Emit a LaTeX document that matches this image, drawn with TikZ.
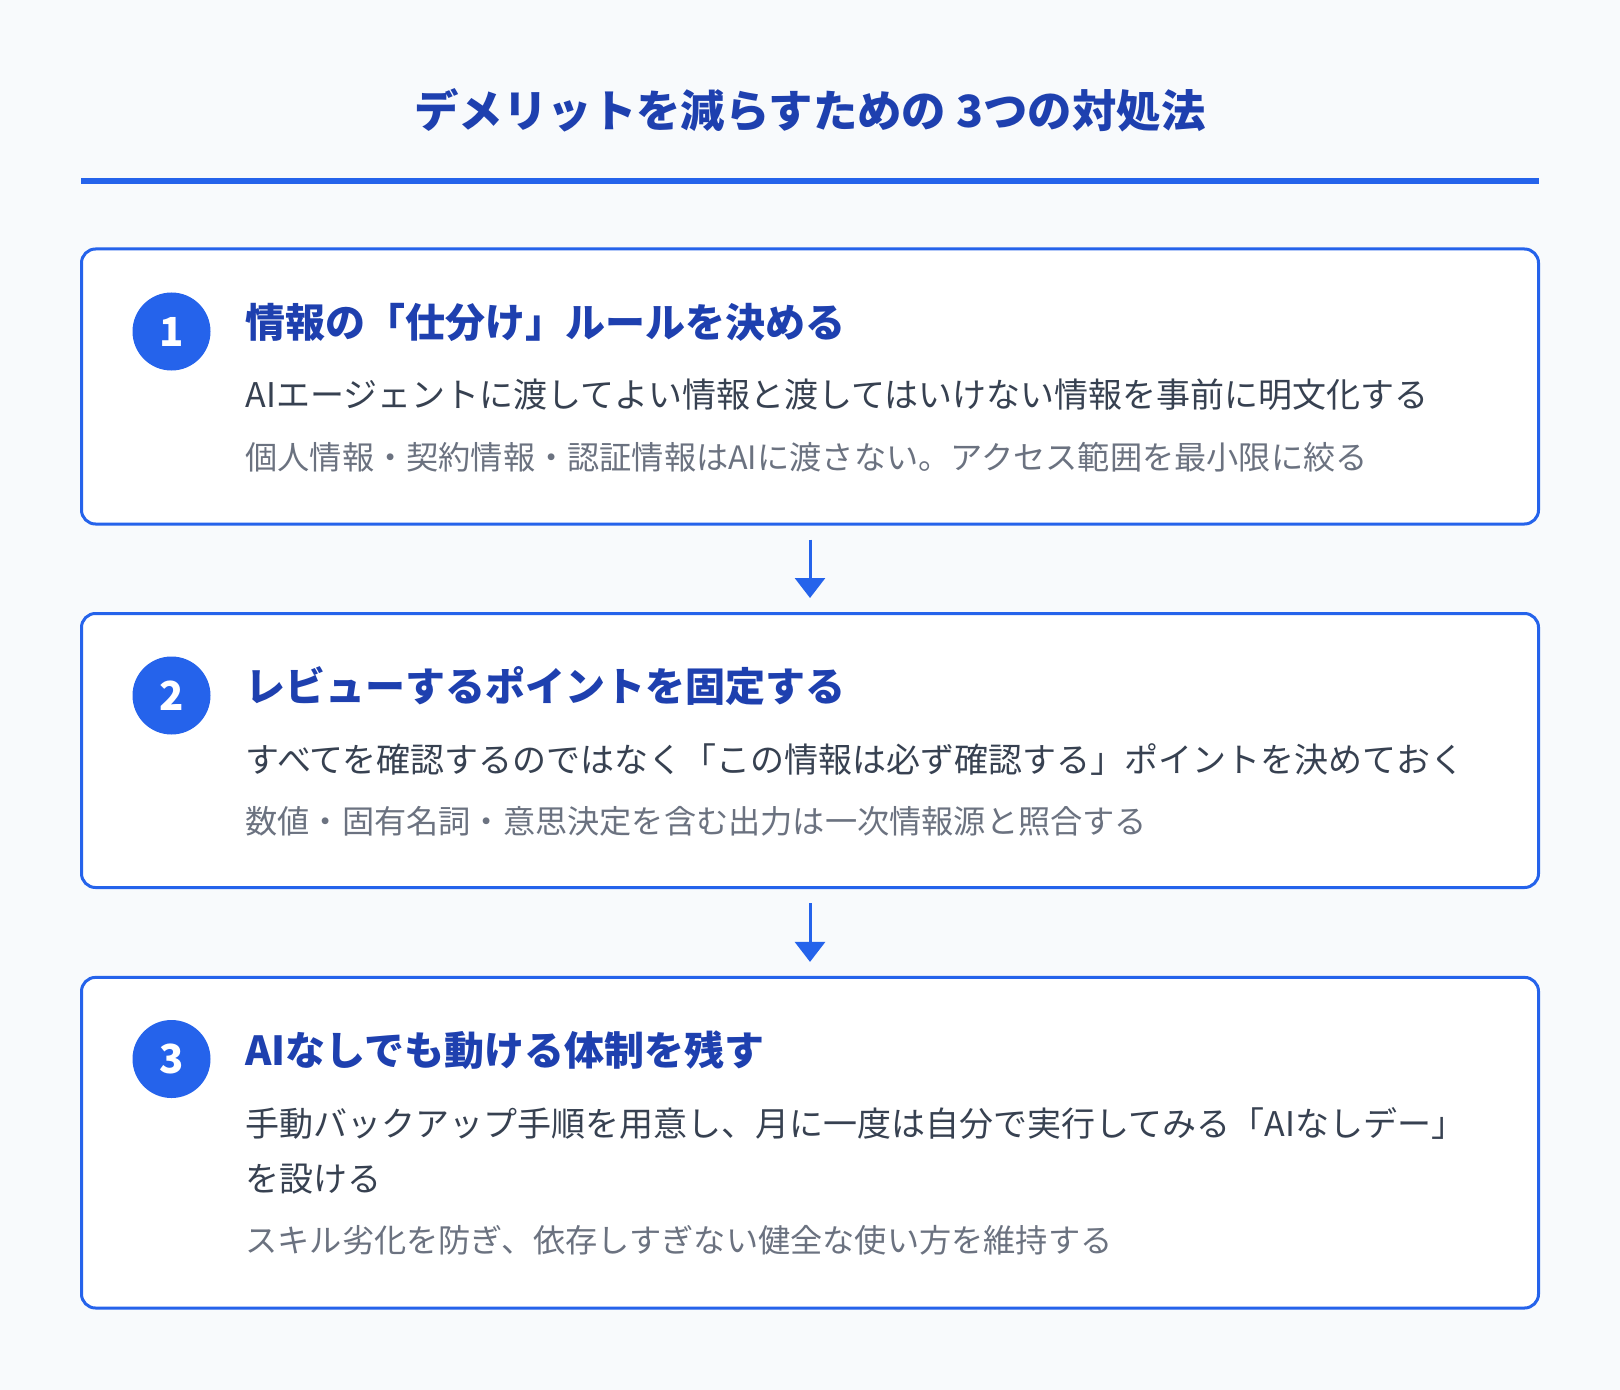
\documentclass[tikz,border=0pt]{standalone}
\usepackage{fontspec}
\setmainfont{Noto Sans CJK JP}
\usetikzlibrary{arrows.meta,positioning}

\definecolor{pagebg}{HTML}{F8FAFC}
\definecolor{accent}{HTML}{2563EB}
\definecolor{headblue}{HTML}{1E40AF}
\definecolor{bodygray}{HTML}{374151}
\definecolor{notegray}{HTML}{6B7280}

\tikzset{
  stepcard/.style={draw=accent, line width=1.5pt, rounded corners=7pt, fill=white, minimum width=728.5pt},
  numdot/.style={circle, fill=accent, minimum size=39pt, inner sep=0pt, text=white, font=\fontsize{20}{20}\selectfont\bfseries},
  cardhead/.style={anchor=west, inner sep=0pt, text=headblue, font=\fontsize{20}{24}\selectfont\bfseries},
  cardbody/.style={anchor=west, inner sep=0pt, align=left, text=bodygray, font=\fontsize{17}{27.5}\selectfont},
  cardnote/.style={anchor=west, inner sep=0pt, text=notegray, font=\fontsize{16.1}{20}\selectfont},
  flowarrow/.style={-{Triangle[length=10pt,width=15pt]}, draw=accent, line width=1.5pt, shorten <=7pt, shorten >=7pt},
}

\begin{document}
\begin{tikzpicture}[x=0.5pt, y=-0.5pt]
    % page
    \fill[pagebg] (0,0) rectangle (1620,1390);
    \useasboundingbox (0,0) rectangle (1620,1390);

    % title and rule
    \node[inner sep=0pt, text=headblue, font=\fontsize{22.2}{26}\selectfont\bfseries] (title) at (810,110) {デメリットを減らすための 3つの対処法};
    \coordinate (ruleL) at (81,181);
    \coordinate (ruleR) at (1539,181);
    \draw[accent, line width=3pt] (ruleL) -- (ruleR);

    % card 1
    \node[stepcard, minimum height=137.5pt] (box1) at (810,386.5) {};
    \node[numdot] (num1) at (171.5,331.5) {1};
    \node[cardhead] (head1) at (245,322) {情報の「仕分け」ルールを決める};
    \node[cardbody] (body1) at (245,395) {AIエージェントに渡してよい情報と渡してはいけない情報を事前に明文化する};
    \node[cardnote] (note1) at (245,457) {個人情報・契約情報・認証情報はAIに渡さない。アクセス範囲を最小限に絞る};

    % card 2
    \node[stepcard, minimum height=137pt] (box2) at (810,750.5) {};
    \node[numdot] (num2) at (171.5,695.5) {2};
    \node[cardhead] (head2) at (245,686) {レビューするポイントを固定する};
    \node[cardbody] (body2) at (245,759.5) {すべてを確認するのではなく「この情報は必ず確認する」ポイントを決めておく};
    \node[cardnote] (note2) at (245,821.5) {数値・固有名詞・意思決定を含む出力は一次情報源と照合する};

    % card 3
    \node[stepcard, minimum height=165.3pt] (box3) at (810,1142.7) {};
    \node[numdot] (num3) at (171.5,1059) {3};
    \node[cardhead] (head3) at (245,1050.5) {AIなしでも動ける体制を残す};
    \node[cardbody] (body3) at (245,1150.5) {手動バックアップ手順を用意し、月に一度は自分で実行してみる「AIなしデー」\\を設ける};
    \node[cardnote] (note3) at (245,1240) {スキル劣化を防ぎ、依存しすぎない健全な使い方を維持する};

    % arrows between cards
    \draw[flowarrow] (box1.south) -- (box2.north);
    \draw[flowarrow] (box2.south) -- (box3.north);
\end{tikzpicture}
\end{document}
